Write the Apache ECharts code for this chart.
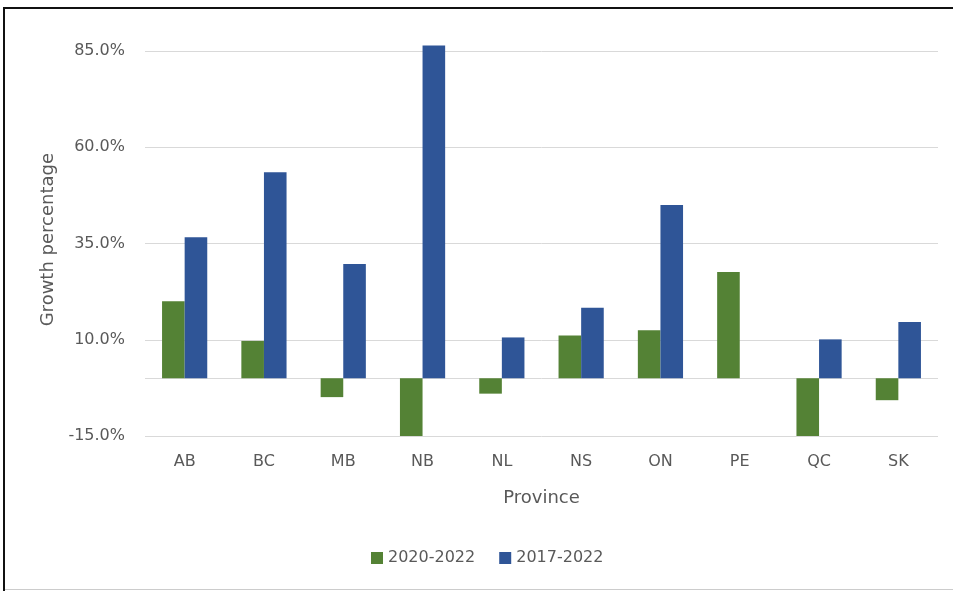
<!DOCTYPE html>
<html>
<head>
<meta charset="utf-8">
<script src="https://cdn.jsdelivr.net/npm/echarts@6/dist/echarts.min.js"></script>
<style>
  html, body { margin: 0; padding: 0; background: #ffffff; }
  #chart { width: 953px; height: 591px; }
</style>
</head>
<body>
<div id="chart"></div>
<script>
const provinces = ['AB', 'BC', 'MB', 'NB', 'NL', 'NS', 'ON', 'PE', 'QC', 'SK'];
const growth2020_2022 = [20.0, 9.7, -4.9, -15.0, -4.0, 11.1, 12.5, 27.6, -15.0, -5.7];
const growth2017_2022 = [36.6, 53.5, 29.7, 86.4, 10.6, 18.3, 45.0, null, 10.1, 14.6];
const yTickLabels = [-15, 10, 35, 60, 85];
const yGridValues = [-15, 0, 10, 35, 60, 85];

const FONT = 'DejaVu Sans';
const TXT = '#595959';

const chart = echarts.init(document.getElementById('chart'), null, { renderer: 'canvas' });

chart.setOption({
  animation: false,
  backgroundColor: '#ffffff',
  textStyle: { fontFamily: FONT },
  grid: { left: 145, right: 15, top: 43.3, bottom: 155, containLabel: false },
  legend: {
    left: 366,
    top: 545,
    itemWidth: 12,
    itemHeight: 12,
    itemGap: 24,
    icon: 'rect',
    textStyle: { fontFamily: FONT, fontSize: 16, color: TXT, padding: [0, 0, 0, 0] },
    data: ['2020-2022', '2017-2022']
  },
  xAxis: {
    type: 'category',
    data: provinces,
    name: 'Province',
    nameLocation: 'middle',
    nameGap: 53,
    nameTextStyle: { fontFamily: FONT, fontSize: 18, color: TXT },
    axisLine: { show: false, onZero: false },
    axisTick: { show: false },
    axisLabel: { fontFamily: FONT, fontSize: 16, color: TXT, margin: 18 }
  },
  yAxis: {
    type: 'value',
    min: -15,
    max: 87,
    name: 'Growth percentage',
    nameLocation: 'middle',
    nameGap: 88,
    nameTextStyle: { fontFamily: FONT, fontSize: 18, color: TXT },
    axisLine: { show: false },
    axisTick: { show: false, customValues: yGridValues },
    axisLabel: {
      customValues: yTickLabels,
      fontFamily: FONT, fontSize: 16, color: TXT, margin: 20,
      formatter: v => v.toFixed(1) + '%'
    },
    splitLine: { show: true, lineStyle: { color: '#d9d9d9', width: 1 } }
  },
  series: [
    {
      name: '2020-2022',
      type: 'bar',
      data: growth2020_2022,
      itemStyle: { color: '#548235' },
      barGap: '0%',
      barCategoryGap: '43%',
      clip: true
    },
    {
      name: '2017-2022',
      type: 'bar',
      data: growth2017_2022,
      itemStyle: { color: '#2F5597' },
      barGap: '0%',
      barCategoryGap: '43%',
      clip: true
    }
  ],
  graphic: [
    { type: 'line', silent: true, shape: { x1: 3, y1: 8, x2: 953, y2: 8 }, style: { stroke: '#111', lineWidth: 2 } },
    { type: 'line', silent: true, shape: { x1: 4, y1: 7, x2: 4, y2: 591 }, style: { stroke: '#111', lineWidth: 2 } },
    { type: 'line', silent: true, shape: { x1: 5, y1: 589.5, x2: 953, y2: 589.5 }, style: { stroke: '#cccccc', lineWidth: 1 } }
  ]
});
</script>
</body>
</html>
